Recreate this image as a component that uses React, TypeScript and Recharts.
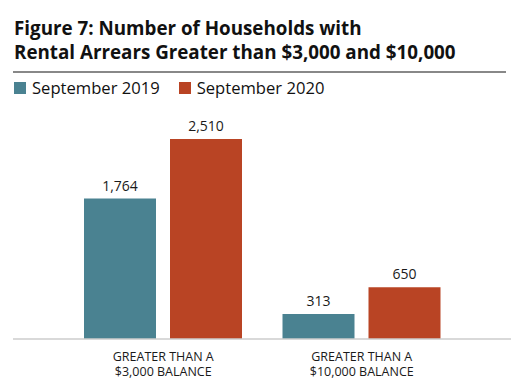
import React from 'react';
import { BarChart, Bar, XAxis, YAxis, LabelList } from 'recharts';

const categories = ['GREATER THAN A|$3,000 BALANCE', 'GREATER THAN A|$10,000 BALANCE'];
const sep2019 = [1764, 313];
const sep2020 = [2510, 650];
const seriesNames = ['September 2019', 'September 2020'];
const seriesColors = ['#4a8291', '#b94424'];

const data = categories.map((c, i) => ({ name: c, s2019: sep2019[i], s2020: sep2020[i] }));

const FONT = '"Open Sans", "Noto Sans", sans-serif';

const CategoryTick = (props: any) => {
    const { x, y, payload } = props;
    const lines = String(payload.value).split('|');
    return (
        <text x={x} y={y} textAnchor="middle" fontFamily={FONT} fontSize={12.5} fill="#1a1a1a">
            {lines.map((l, i) => (
                <tspan key={i} x={x} dy={i === 0 ? 14 : 14.5}>
                    {l}
                </tspan>
            ))}
        </text>
    );
};

export default function App() {
    return (
        <div style={{ position: 'absolute', left: 0, top: 0, width: 527, height: 391, background: '#fff', fontFamily: FONT }}>
            <div style={{ position: 'absolute', left: 14, top: 16, fontSize: 18.8, fontWeight: 700, lineHeight: '24px', color: '#111' }}>
                Figure 7: Number of Households with
                <br />
                Rental Arrears Greater than $3,000 and $10,000
            </div>
            <div style={{ position: 'absolute', left: 13, top: 71, width: 493, height: 2, background: '#888' }} />
            <div style={{ position: 'absolute', left: 14, top: 77, display: 'flex', gap: 19, fontSize: 16.6, color: '#111', lineHeight: '22px' }}>
                {seriesNames.map((n, i) => (
                    <div key={n} style={{ display: 'flex', alignItems: 'center', gap: 6 }}>
                        <div style={{ width: 12, height: 12, background: seriesColors[i] }} />
                        <span>{n}</span>
                    </div>
                ))}
            </div>
            <div style={{ position: 'absolute', left: 0, top: 0 }}>
                <BarChart
                    width={527}
                    height={391}
                    data={data}
                    margin={{ top: 116, right: 16, bottom: 0, left: 13 }}
                    barSize={72}
                    barGap={14}
                >
                    <XAxis
                        dataKey="name"
                        height={52}
                        tickLine={false}
                        axisLine={{ stroke: '#cccccc', strokeWidth: 1.5 }}
                        padding={{ left: 51, right: 50 }}
                        tick={<CategoryTick />}
                        interval={0}
                    />
                    <YAxis hide domain={[0, 2800]} />
                    {(['s2019', 's2020'] as const).map((k, i) => (
                        <Bar key={k} dataKey={k} name={seriesNames[i]} fill={seriesColors[i]} isAnimationActive={false}>
                            <LabelList
                                dataKey={k}
                                position="top"
                                offset={8}
                                fontFamily={FONT}
                                fontSize={14}
                                fill="#1a1a1a"
                                formatter={(v: any) => Number(v).toLocaleString('en-US')}
                            />
                        </Bar>
                    ))}
                </BarChart>
            </div>
        </div>
    );
}
